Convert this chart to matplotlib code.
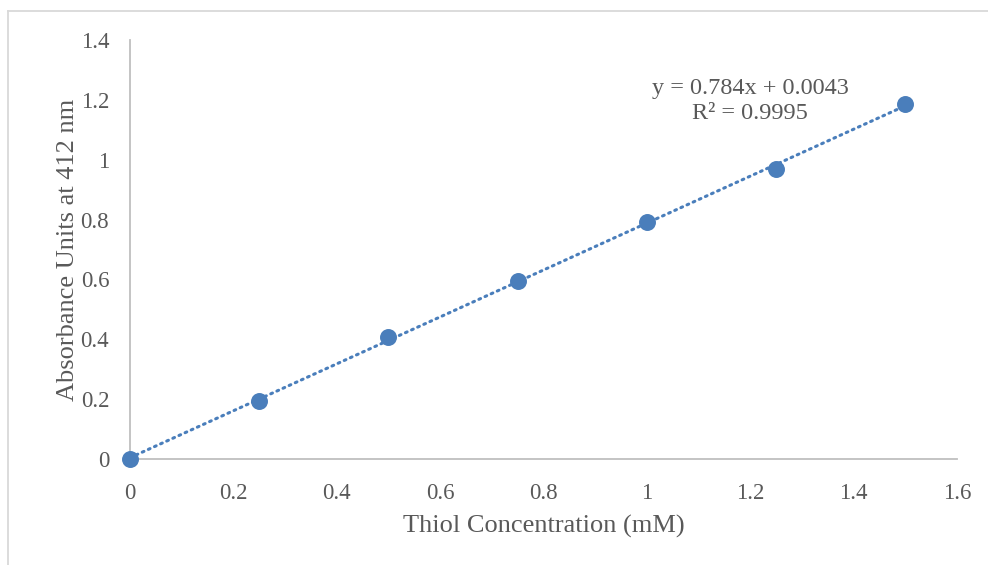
import numpy as np
import matplotlib.pyplot as plt
from matplotlib.lines import Line2D

conc = [0, 0.25, 0.5, 0.75, 1.0, 1.25, 1.5]
absorb = [0.0, 0.195, 0.409, 0.596, 0.792, 0.969, 1.186]
slope = 0.784
intercept = 0.0043
r2 = 0.9995

blue = '#4a7ebb'
grey = '#595959'
plt.rcParams['font.family'] = ['Liberation Serif', 'DejaVu Serif']

fig = plt.figure(figsize=(9.88, 5.65), dpi=100)
ax = fig.add_axes([130/988, 106/565, 827/988, 419/565])

xs = np.array([conc[0], conc[-1]])
ax.plot(xs, slope*xs + intercept, color=blue, lw=2.2, ls=(0, (0.6, 1.6)),
        dash_capstyle='round', zorder=2)
ax.scatter(conc, absorb, s=125, color=blue, zorder=3, clip_on=False)

ax.set_xlim(0, 1.6)
ax.set_ylim(0, 1.4)
ax.set_xticks(np.arange(0, 1.61, 0.2))
ax.set_yticks(np.arange(0, 1.41, 0.2))
ax.set_xticklabels(['0', '0.2', '0.4', '0.6', '0.8', '1', '1.2', '1.4', '1.6'])
ax.set_yticklabels(['0', '0.2', '0.4', '0.6', '0.8', '1', '1.2', '1.4'])
ax.tick_params(length=0, labelsize=16.5, colors=grey)
ax.tick_params(axis='x', pad=17)
ax.tick_params(axis='y', pad=15)
for s in ['top', 'right']:
    ax.spines[s].set_visible(False)
for s in ['left', 'bottom']:
    ax.spines[s].set_color('#bfbfbf')
    ax.spines[s].set_linewidth(1.3)

ax.set_xlabel('Thiol Concentration (mM)', fontsize=19, color=grey, labelpad=8)
ax.set_ylabel('Absorbance Units at 412 nm', fontsize=19, color=grey, labelpad=1)

ax.text(1.2, 1.196, 'y = %.3fx + %.4f\nR² = %.4f' % (slope, intercept, r2),
        fontsize=17.5, color=grey, ha='center', va='center', linespacing=1.3)

# outer chart frame
fig.add_artist(Line2D([8/988, 1], [1 - 11/565, 1 - 11/565], color='#d9d9d9', lw=1.3))
fig.add_artist(Line2D([8/988, 8/988], [0, 1 - 11/565], color='#d9d9d9', lw=1.3))

fig.savefig('out.png', dpi=100)
